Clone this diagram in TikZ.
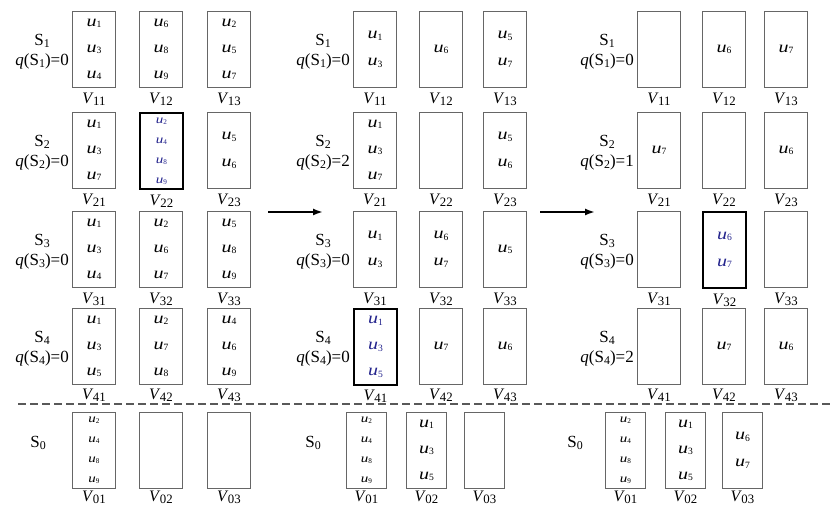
\documentclass[tikz,border=0pt]{standalone}
\usepackage{fontspec}
\setmainfont{Liberation Serif}
\usetikzlibrary{arrows.meta}

\definecolor{pickblue}{RGB}{35,35,140}
\newcommand{\uu}[1]{\scalebox{1.25}[1]{\textit{u}}\raisebox{-0.08em}{\scalebox{0.6}{#1}}}
\newcommand{\vv}[1]{\textit{V}\kern-0.5pt\raisebox{-0.1em}{\scalebox{0.8}{#1}}}
\newcommand{\sname}[1]{S\raisebox{-0.12em}{\scalebox{0.7}{#1}}}
\newcommand{\qtext}[2]{\sname{#1}\\\textit{q}(\sname{#1})=#2}
% one box: [label lift], name, x, y, styles, items, V index
\newcommand{\cell}[7][0pt]{\node[cellbox,#5,label={[vlab,yshift=#1,name=#2v]below:\vv{#7}}] (#2) at (#3,#4) {#6};}

\begin{document}
\begin{tikzpicture}[x=1pt, y=-1pt, label distance=5pt,
    cellbox/.style={draw=black!60, line width=0.8pt, minimum width=43pt, minimum height=76pt, inner sep=0pt, anchor=north west},
    pick/.style={draw=black, line width=1.8pt, text=pickblue},
    one/.style={font=\fontsize{16}{16}\selectfont},
    two/.style={align=center, font=\fontsize{16}{27}\selectfont},
    three/.style={align=center, font=\fontsize{16}{26}\selectfont},
    four/.style={align=center, font=\fontsize{12}{20}\selectfont},
    low/.style={minimum width=40pt},
    vlab/.style={font=\fontsize{16}{16}\selectfont, inner sep=0pt, text=black},
    rowlab/.style={align=center, font=\fontsize{17}{20}\selectfont, anchor=east, inner sep=0pt, yshift=-2pt, xshift=-3pt},
    zerolab/.style={font=\fontsize{17}{17}\selectfont},
    flow/.style={-{Latex[length=10pt,width=7pt]}, line width=1.8pt},
    split/.style={dash pattern=on 8pt off 4pt, draw=black!65, line width=1.2pt}]
    \useasboundingbox (0,0) rectangle (831,505);

    % left state
    \cell{a11}{72}{11}{three}{\uu1\\\uu3\\\uu4}{11}
    \cell{a12}{139}{11}{three}{\uu6\\\uu8\\\uu9}{12}
    \cell{a13}{207}{11}{three}{\uu2\\\uu5\\\uu7}{13}
    \cell{a21}{72}{112}{three}{\uu1\\\uu3\\\uu7}{21}
    \cell{a22}{139}{112}{pick,four}{\uu2\\\uu4\\\uu8\\\uu9}{22}
    \cell{a23}{207}{112}{two}{\uu5\\\uu6}{23}
    \cell{a31}{72}{211}{three}{\uu1\\\uu3\\\uu4}{31}
    \cell{a32}{139}{211}{three}{\uu2\\\uu6\\\uu7}{32}
    \cell{a33}{207}{211}{three}{\uu5\\\uu8\\\uu9}{33}
    \cell[1pt]{a41}{72}{308}{three}{\uu1\\\uu3\\\uu5}{41}
    \cell[1pt]{a42}{139}{308}{three}{\uu2\\\uu7\\\uu8}{42}
    \cell[1pt]{a43}{207}{308}{three}{\uu4\\\uu6\\\uu9}{43}
    \cell[3pt]{a01}{72}{412}{four}{\uu2\\\uu4\\\uu8\\\uu9}{01}
    \cell[3pt]{a02}{139}{412}{}{}{02}
    \cell[3pt]{a03}{207}{412}{}{}{03}
    \node[rowlab] (as1) at (a11.west) {\qtext{1}{0}};
    \node[rowlab] (as2) at (a21.west) {\qtext{2}{0}};
    \node[rowlab] (as3) at (a31.west) {\qtext{3}{0}};
    \node[rowlab] (as4) at (a41.west) {\qtext{4}{0}};
    \node[zerolab] (as0) at (38,443) {\sname{0}};

    % middle state
    \cell{b11}{353}{11}{two}{\uu1\\\uu3}{11}
    \cell{b12}{419}{11}{one}{\uu6}{12}
    \cell{b13}{483}{11}{two}{\uu5\\\uu7}{13}
    \cell{b21}{353}{112}{three}{\uu1\\\uu3\\\uu7}{21}
    \cell{b22}{419}{112}{}{}{22}
    \cell{b23}{483}{112}{two}{\uu5\\\uu6}{23}
    \cell{b31}{353}{211}{two}{\uu1\\\uu3}{31}
    \cell{b32}{419}{211}{two}{\uu6\\\uu7}{32}
    \cell{b33}{483}{211}{one}{\uu5}{33}
    \cell[1pt]{b41}{353}{308}{pick,three}{\uu1\\\uu3\\\uu5}{41}
    \cell[1pt]{b42}{419}{308}{one}{\uu7}{42}
    \cell[1pt]{b43}{483}{308}{one}{\uu6}{43}
    \cell[3pt]{b01}{346}{412}{low,four}{\uu2\\\uu4\\\uu8\\\uu9}{01}
    \cell[3pt]{b02}{406}{412}{low,three}{\uu1\\\uu3\\\uu5}{02}
    \cell[3pt]{b03}{464}{412}{low}{}{03}
    \node[rowlab] (bs1) at (b11.west) {\qtext{1}{0}};
    \node[rowlab] (bs2) at (b21.west) {\qtext{2}{2}};
    \node[rowlab] (bs3) at (b31.west) {\qtext{3}{0}};
    \node[rowlab] (bs4) at (b41.west) {\qtext{4}{0}};
    \node[zerolab] (bs0) at (313,443) {\sname{0}};

    % right state
    \cell{c11}{637}{11}{}{}{11}
    \cell{c12}{702}{11}{one}{\uu6}{12}
    \cell{c13}{764}{11}{one}{\uu7}{13}
    \cell{c21}{637}{112}{one}{\uu7}{21}
    \cell{c22}{702}{112}{}{}{22}
    \cell{c23}{764}{112}{one}{\uu6}{23}
    \cell{c31}{637}{211}{}{}{31}
    \cell{c32}{702}{211}{pick,two}{\uu6\\\uu7}{32}
    \cell{c33}{764}{211}{}{}{33}
    \cell[1pt]{c41}{637}{308}{}{}{41}
    \cell[1pt]{c42}{702}{308}{one}{\uu7}{42}
    \cell[1pt]{c43}{764}{308}{one}{\uu6}{43}
    \cell[3pt]{c01}{605}{412}{low,four}{\uu2\\\uu4\\\uu8\\\uu9}{01}
    \cell[3pt]{c02}{665}{412}{low,three}{\uu1\\\uu3\\\uu5}{02}
    \cell[3pt]{c03}{722}{412}{low,two}{\uu6\\\uu7}{03}
    \node[rowlab] (cs1) at (c11.west) {\qtext{1}{0}};
    \node[rowlab] (cs2) at (c21.west) {\qtext{2}{1}};
    \node[rowlab] (cs3) at (c31.west) {\qtext{3}{0}};
    \node[rowlab] (cs4) at (c41.west) {\qtext{4}{2}};
    \node[zerolab] (cs0) at (575,443) {\sname{0}};

    % steps and the S0 split
    \coordinate (ab1) at (268,212);
    \coordinate (ab2) at (323,212);
    \coordinate (bc1) at (540,212);
    \coordinate (bc2) at (595,212);
    \draw[flow] (ab1) -- (ab2);
    \draw[flow] (bc1) -- (bc2);
    \coordinate (sl) at (18,404);
    \coordinate (sr) at (831,404);
    \draw[split] (sl) -- (sr);
\end{tikzpicture}
\end{document}
